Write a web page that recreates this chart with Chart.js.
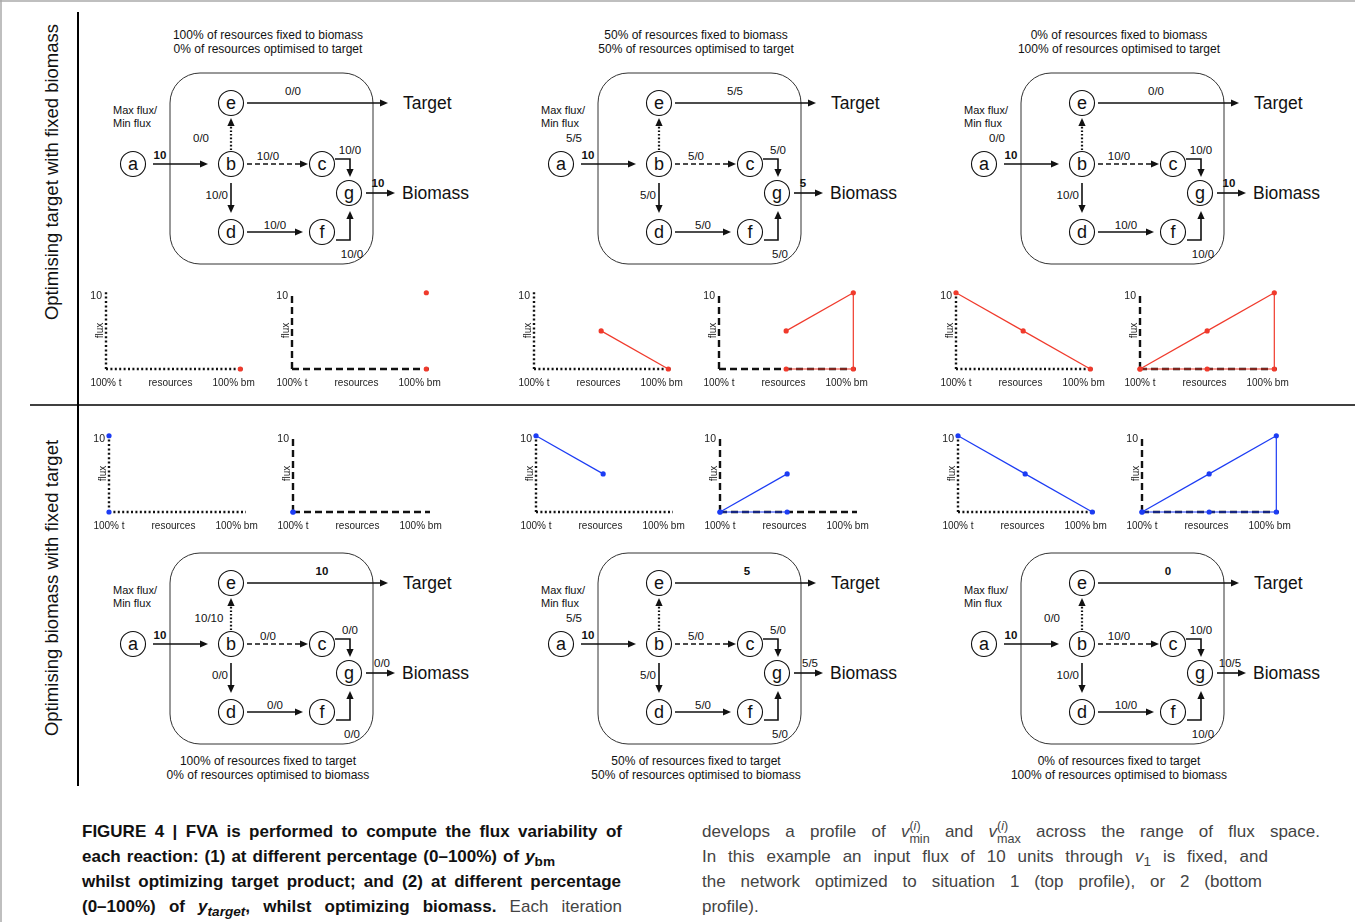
<!DOCTYPE html>
<html>
<head>
<meta charset="utf-8">
<script src="https://cdn.jsdelivr.net/npm/chart.js@4"></script>
<style>
  html,body{margin:0;padding:0;background:#fff;}
  #page{position:relative;width:1355px;height:922px;overflow:hidden;font-family:"Liberation Sans",Arial,sans-serif;}
  #art{position:absolute;left:0;top:0;}
  .mini{position:absolute;}
  .cap{position:absolute;font-family:"Liberation Sans",Arial,sans-serif;
       font-size:17px;line-height:25px;color:#444;white-space:nowrap;}
  .cap div{height:25px;text-align:justify;text-align-last:justify;}
  .cap div.last{text-align:left;text-align-last:left;}
  .cap b{color:#111;}
  .cap sub{font-size:0.8em;vertical-align:-0.3em;line-height:0;}
  .ss{display:inline-block;vertical-align:-0.5em;line-height:1.05;font-size:0.74em;text-align:left;text-align-last:left;}
  .ss span{display:block;}
</style>
</head>
<body>
<div id="page">
  <svg id="art" width="1355" height="922" xmlns="http://www.w3.org/2000/svg"></svg>
  <div class="cap" style="left:82px;top:819px;">
    <div style="width:540px"><b>FIGURE 4 | FVA is performed to compute the flux variability of</b></div>
    <div style="width:473px"><b>each reaction: (1) at different percentage (0–100%) of <i>y</i><sub>bm</sub></b></div>
    <div style="width:539px"><b>whilst optimizing target product; and (2) at different percentage</b></div>
    <div style="width:540px"><b>(0–100%) of <i>y<sub>target</sub></i>, whilst optimizing biomass.</b> Each iteration</div>
  </div>
  <div class="cap" style="left:702px;top:819px;">
    <div style="width:618px">develops a profile of <i>v</i><span class="ss"><span>(<i>i</i>)</span><span>min</span></span> and <i>v</i><span class="ss"><span>(<i>i</i>)</span><span>max</span></span> across the range of flux space.</div>
    <div style="width:566px">In this example an input flux of 10 units through <i>v</i><sub>1</sub> is fixed, and</div>
    <div style="width:560px">the network optimized to situation 1 (top profile), or 2 (bottom</div>
    <div class="last">profile).</div>
  </div>
</div>
<script>
// ---- data ----
const rowLabels = ['Optimising target with fixed biomass', 'Optimising biomass with fixed target'];
const titleLine1 = ['100% of resources fixed to biomass', '50% of resources fixed to biomass', '0% of resources fixed to biomass',
                    '100% of resources fixed to target', '50% of resources fixed to target', '0% of resources fixed to target'];
const titleLine2 = ['0% of resources optimised to target', '50% of resources optimised to target', '100% of resources optimised to target',
                    '0% of resources optimised to biomass', '50% of resources optimised to biomass', '100% of resources optimised to biomass'];
// reaction labels (max/min flux) for the six networks
const lblAB = ['10', '10', '10', '10', '10', '10'];
const lblBE = ['0/0', '5/5', '0/0', '10/10', '5/5', '0/0'];
const lblBC = ['10/0', '5/0', '10/0', '0/0', '5/0', '10/0'];
const lblBD = ['10/0', '5/0', '10/0', '0/0', '5/0', '10/0'];
const lblDF = ['10/0', '5/0', '10/0', '0/0', '5/0', '10/0'];
const lblCG = ['10/0', '5/0', '10/0', '0/0', '5/0', '10/0'];
const lblFG = ['10/0', '5/0', '10/0', '0/0', '5/0', '10/0'];
const lblET = ['0/0', '5/5', '0/0', '10', '5', '0'];
const lblGB = ['10', '5', '10', '0/0', '5/5', '10/5'];

// flux profiles: x = resources (0 = 100% t, 1 = 100% bm)
const resources = [0, 0.5, 1];
const xTickVals = [0, 0.48, 0.95];
const xTickLabels = ['100% t', 'resources', '100% bm'];
const yTickVals = [10];
const topDotted   = [[null, null, 0], [null, 5, 0], [10, 5, 0]];
const topDashMax  = [[null, null, 10], [null, 5, 10], [0, 5, 10]];
const topDashMin  = [[null, null, 0], [null, 0, 0], [0, 0, 0]];
const topDashEdge = [false, true, true];
const botDotted   = [[10, null, null], [10, 5, null], [10, 5, 0]];
const botDotLow   = [[0, null, null], [null, null, null], [null, null, null]];
const botDashMax  = [[0, null, null], [0, 5, null], [0, 5, 10]];
const botDashMin  = [[0, null, null], [0, 0, null], [0, 0, 0]];
const botDashEdge = [false, false, true];

// ---- network diagrams (svg) ----
const svg = document.getElementById('art');
let out = '';
const INK = '#111';
function text(x, y, s, o = {}) {
  out += `<text x="${x}" y="${y}" font-size="${o.size || 11.5}" font-weight="${o.bold ? 'bold' : 'normal'}" text-anchor="${o.anchor || 'middle'}" dominant-baseline="central" fill="${INK}">${s}</text>`;
}
function head(x1, y1, x2, y2) {
  const L = 8, W = 3.6, a = Math.atan2(y2 - y1, x2 - x1);
  const bx = x2 - L * Math.cos(a), by = y2 - L * Math.sin(a);
  const px = -Math.sin(a) * W, py = Math.cos(a) * W;
  out += `<polygon points="${x2},${y2} ${bx + px},${by + py} ${bx - px},${by - py}" fill="${INK}"/>`;
  return [bx, by];
}
function arrow(pts, dash, w) {
  const n = pts.length;
  const [bx, by] = head(pts[n - 2][0], pts[n - 2][1], pts[n - 1][0], pts[n - 1][1]);
  const p = pts.slice(0, n - 1).concat([[bx, by]]).map(q => q.join(',')).join(' ');
  out += `<polyline points="${p}" fill="none" stroke="${INK}" stroke-width="${w || 1.6}" ${dash ? `stroke-dasharray="${dash}"` : ''}/>`;
}
const nodes = {a: [133, 164], b: [231, 164], e: [231, 103], c: [322, 164], g: [349, 193], d: [231, 232], f: [322, 232]};
const colDX = [0, 428, 851];
const beLabelX = [201, 146, 146, 209, 146, 201];
const etLabelX = [293, 307, 305, 322, 319, 317];
const gbLabelX = [378, 375, 378, 382, 382, 379];

for (let k = 0; k < 6; k++) {
  const row = k < 3 ? 0 : 1, dx = colDX[k % 3], dy = row * 480;
  const X = v => v + dx, Y = v => v + dy;
  out += `<rect x="${X(170)}" y="${Y(73)}" width="203" height="191" rx="30" ry="30" fill="none" stroke="#333" stroke-width="1"/>`;
  for (const n in nodes) {
    const [cx, cy] = nodes[n];
    out += `<circle cx="${X(cx)}" cy="${Y(cy)}" r="12.5" fill="#fff" stroke="${INK}" stroke-width="1.1"/>`;
    out += `<text x="${X(cx)}" y="${Y(cy) + 6}" font-size="18" text-anchor="middle" fill="${INK}">${n}</text>`;
  }
  arrow([[X(153), Y(164)], [X(208), Y(164)]]);
  arrow([[X(231), Y(150)], [X(231), Y(118)]], '1.6 2', 2.2);
  arrow([[X(247), Y(164)], [X(308), Y(164)]], '5 3');
  arrow([[X(231), Y(183)], [X(231), Y(213)]]);
  arrow([[X(247), Y(232)], [X(303), Y(232)]]);
  arrow([[X(335), Y(159)], [X(350), Y(159)], [X(350), Y(177)]]);
  arrow([[X(336), Y(240)], [X(350), Y(240)], [X(350), Y(211)]]);
  arrow([[X(247), Y(103)], [X(388), Y(103)]]);
  arrow([[X(366), Y(193)], [X(395), Y(193)]]);

  text(X(160), Y(155), lblAB[k], {bold: true});
  text(X(beLabelX[k]), Y(138), lblBE[k]);
  text(X(268), Y(156), lblBC[k]);
  text(X(228), Y(195), lblBD[k], {anchor: 'end'});
  text(X(275), Y(225), lblDF[k]);
  text(X(350), Y(150), lblCG[k]);
  text(X(352), Y(254), lblFG[k]);
  text(X(etLabelX[k]), Y(91), lblET[k], {bold: row === 1});
  text(X(gbLabelX[k]), Y(183), lblGB[k], {bold: row === 0});
  text(X(403), Y(103), 'Target', {size: 17.5, anchor: 'start'});
  text(X(402), Y(193), 'Biomass', {size: 17.5, anchor: 'start'});
  text(X(113), Y(110), 'Max flux/', {size: 11, anchor: 'start'});
  text(X(113), Y(123), 'Min flux', {size: 11, anchor: 'start'});
  const ty = row === 0 ? 35 : 761;
  text(X(268), ty, titleLine1[k], {size: 12});
  text(X(268), ty + 14, titleLine2[k], {size: 12});
}
// frame, dividers, row labels
out += `<line x1="1" y1="0" x2="1" y2="922" stroke="#aaa" stroke-width="1.5"/>`;
out += `<line x1="0" y1="1" x2="1355" y2="1" stroke="#aaa" stroke-width="1.5"/>`;
out += `<line x1="78" y1="12" x2="78" y2="786" stroke="#000" stroke-width="2"/>`;
out += `<line x1="30" y1="405" x2="1355" y2="405" stroke="#000" stroke-width="1.6"/>`;
out += `<text transform="translate(58,172) rotate(-90)" font-size="18.5" text-anchor="middle" fill="${INK}">${rowLabels[0]}</text>`;
out += `<text transform="translate(58,588) rotate(-90)" font-size="18.5" text-anchor="middle" fill="${INK}">${rowLabels[1]}</text>`;
svg.innerHTML = out;

// ---- small flux charts ----
const RED = '#f03a2c', BLUE = '#1c3cf4';
const topPos = [[106, 292], [292, 292], [534, 292], [719, 292], [956, 292], [1140, 292]];
const botPos = [[109, 435], [293, 435], [536, 435], [720, 435], [958, 435], [1142, 435]];
const AREA_W = 137, AREA_H = 77, YW = 24, XH = 22, PT = 8, PR = 12;
const FONT = '"Liberation Sans", Arial, sans-serif';

// dotted / dashed axis lines and the rotated "flux" title
const axisLines = {
  id: 'axisLines',
  beforeDatasetsDraw(chart, args, opts) {
    const {ctx, chartArea: a} = chart;
    ctx.save();
    ctx.strokeStyle = '#111';
    ctx.lineWidth = 2.4;
    ctx.setLineDash(opts.dash);
    ctx.beginPath(); ctx.moveTo(a.left, a.bottom); ctx.lineTo(a.left, a.top); ctx.stroke();
    ctx.beginPath(); ctx.moveTo(a.left, a.bottom); ctx.lineTo(a.right, a.bottom); ctx.stroke();
    ctx.restore();
  },
  afterDraw(chart) {
    const ys = chart.scales.y, ctx = chart.ctx;
    ctx.save();
    ctx.translate(ys.right - 6, (ys.top + ys.bottom) / 2);
    ctx.rotate(-Math.PI / 2);
    ctx.font = '10px ' + FONT;
    ctx.fillStyle = '#222';
    ctx.textAlign = 'center';
    ctx.textBaseline = 'middle';
    ctx.fillText('flux', 0, 0);
    ctx.restore();
  }
};

function pts(vals) {
  return resources.map((x, i) => ({x, y: vals[i]})).filter(p => p.y !== null);
}
function series(vals, color) {
  const d = pts(vals);
  return {data: d, showLine: d.length > 1, borderColor: color, backgroundColor: color,
          borderWidth: 1.2, pointRadius: 2.6, pointBorderWidth: 0, clip: false};
}

function mini(pos, datasets, dash) {
  const wrap = document.createElement('div');
  wrap.className = 'mini';
  const W = YW + AREA_W + PR, H = PT + AREA_H + XH;
  wrap.style.left = (pos[0] - YW) + 'px';
  wrap.style.top = (pos[1] - PT) + 'px';
  const cv = document.createElement('canvas');
  cv.width = W; cv.height = H;
  wrap.appendChild(cv);
  document.getElementById('page').appendChild(wrap);
  new Chart(cv, {
    type: 'scatter',
    data: {datasets},
    options: {
      responsive: false, animation: false, devicePixelRatio: 1,
      layout: {padding: {left: 0, right: PR, top: PT, bottom: 0}},
      plugins: {legend: {display: false}, tooltip: {enabled: false}, axisLines: {dash}},
      scales: {
        x: {
          type: 'linear', min: 0, max: 1.02,
          grid: {display: false, drawTicks: false}, border: {display: false},
          ticks: {autoSkip: false, maxRotation: 0, padding: 8, color: '#222',
                  font: {size: 10, family: FONT},
                  callback: (v, i) => xTickLabels[i]},
          afterBuildTicks: s => { s.ticks = xTickVals.map(v => ({value: v})); },
          afterFit: s => { s.height = XH; s.paddingLeft = 0; s.paddingRight = 0; }
        },
        y: {
          type: 'linear', min: 0, max: 10.1,
          grid: {display: false, drawTicks: false}, border: {display: false},
          ticks: {padding: 4, labelOffset: 3, color: '#222', font: {size: 10.5, family: FONT},
                  callback: v => String(v)},
          afterBuildTicks: s => { s.ticks = yTickVals.map(v => ({value: v})); },
          afterFit: s => { s.width = YW; s.paddingTop = 0; s.paddingBottom = 0; }
        }
      }
    },
    plugins: [axisLines]
  });
}

const DOT = [2, 2.4], DASH = [7, 4];
for (let c = 0; c < 3; c++) {
  // top row (optimising target)
  mini(topPos[2 * c], [series(topDotted[c], RED)], DOT);
  const td = [series(topDashMax[c], RED), series(topDashMin[c], RED)];
  if (topDashEdge[c]) td.push({data: [{x: 1, y: topDashMax[c][2]}, {x: 1, y: topDashMin[c][2]}], showLine: true,
                               borderColor: RED, borderWidth: 1.2, pointRadius: 0, clip: false});
  mini(topPos[2 * c + 1], td, DASH);
  // bottom row (optimising biomass)
  mini(botPos[2 * c], [series(botDotted[c], BLUE), series(botDotLow[c], BLUE)], DOT);
  const bd = [series(botDashMax[c], BLUE), series(botDashMin[c], BLUE)];
  if (botDashEdge[c]) bd.push({data: [{x: 1, y: botDashMax[c][2]}, {x: 1, y: botDashMin[c][2]}], showLine: true,
                               borderColor: BLUE, borderWidth: 1.2, pointRadius: 0, clip: false});
  mini(botPos[2 * c + 1], bd, DASH);
}
</script>
</body>
</html>
